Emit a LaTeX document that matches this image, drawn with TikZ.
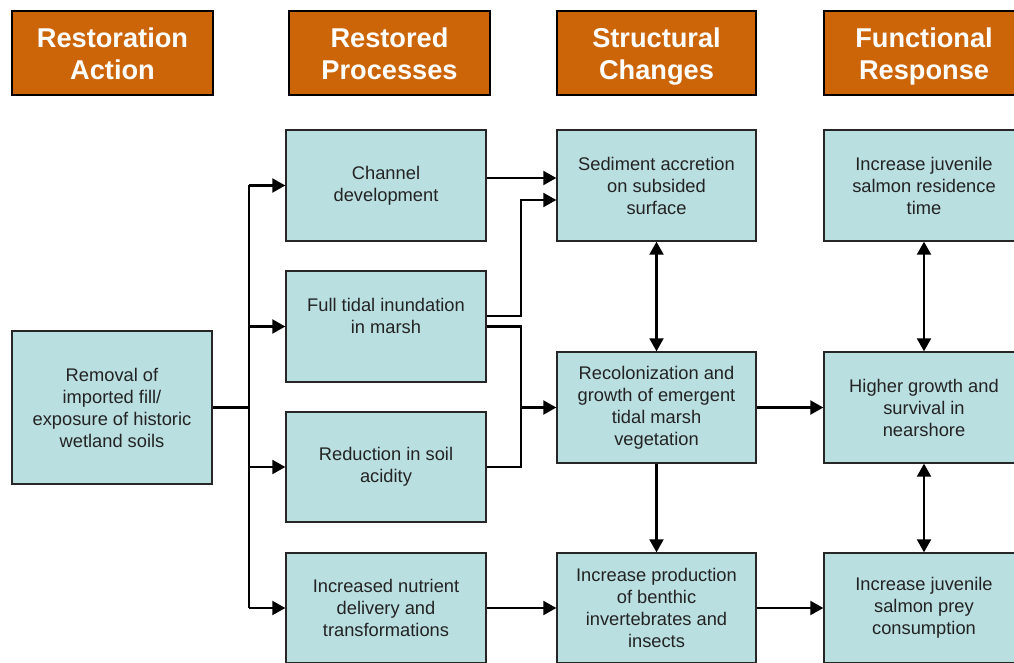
\documentclass[tikz,border=0pt]{standalone}
\usepackage{fontspec}
\setmainfont{Liberation Sans}
\usetikzlibrary{arrows.meta,calc}
\definecolor{hdrorange}{RGB}{204,100,8}
\definecolor{boxfill}{RGB}{186,223,225}
\definecolor{txtdark}{RGB}{35,35,35}
\newcommand{\hs}{\rule[-5pt]{0pt}{32pt}}
\tikzset{
  hdr/.style={draw=black, line width=1.8pt, fill=hdrorange, text=white, minimum width=201pt, minimum height=84pt, inner sep=0pt, align=center, font=\fontsize{27.2}{32}\selectfont\bfseries},
  box/.style={draw=black!85, line width=1.4pt, fill=boxfill, text=txtdark, minimum width=200pt, minimum height=111pt, inner sep=0pt, align=center, font=\fontsize{18.3}{22}\selectfont},
  txt/.style={text=txtdark, inner sep=0pt, align=center, font=\fontsize{18.3}{22}\selectfont},
  conn/.style={line width=2.2pt, draw=black},
  arr/.style={conn, -{Triangle[length=13pt,width=14pt]}},
  darr/.style={conn, {Triangle[length=13pt,width=14pt]}-{Triangle[length=13pt,width=14pt]}}
}
\begin{document}
\begin{tikzpicture}[x=1pt,y=-1pt]
\path[use as bounding box, clip] (0,0) rectangle (1014,663);
\fill[white] (0,0) rectangle (1014,663);
% headers
\node[hdr] (h1) at (112.5,53) {\hs Restoration\\\hs Action};
\node[hdr] (h2) at (389.5,53) {\hs Restored\\\hs Processes};
\node[hdr, minimum width=199pt] (h3) at (656.5,53) {\hs Structural\\\hs Changes};
\node[hdr, minimum width=200pt] (h4) at (924,53) {\hs Functional\\\hs Response};
% boxes
\node[box, minimum height=153pt] (rem) at (112,407.5) {Removal of\\imported fill/\\exposure of historic\\wetland soils};
\node[box] (chan) at (386,185.5) {Channel\\development};
\node[box] (tidal) at (386,326.5) {};
\node[txt] (tidaltxt) at (386,315.5) {Full tidal inundation\\in marsh};
\node[box, minimum height=110pt] (acid) at (386,467) {Reduction in soil\\acidity};
\node[box, minimum height=110pt] (nutr) at (386,608) {Increased nutrient\\delivery and\\transformations};
\node[box, minimum width=199pt] (sed) at (656.5,185.5) {Sediment accretion\\on subsided\\surface};
\node[box, minimum width=199pt] (recol) at (656.5,407.5) {Recolonization and\\growth of emergent\\tidal marsh\\vegetation};
\node[box, minimum width=199pt, minimum height=110pt] (prod) at (656.5,608) {Increase production\\of benthic\\invertebrates and\\insects};
\node[box] (res) at (924,185.5) {Increase juvenile\\salmon residence\\time};
\node[box] (grow) at (924,407.5) {Higher growth and\\survival in\\nearshore};
\node[box, minimum height=110pt] (prey) at (924,608) {Increase juvenile\\salmon prey\\consumption};
% trunk from removal
\coordinate (tk) at (249,407.5);
\coordinate (j) at (521,0);
\draw[conn] (rem.east) -- (tk);
\draw[conn] (tk |- chan.west) -- (tk |- nutr.west);
\draw[arr] (tk |- chan.west) -- (chan.west);
\draw[arr] (tk |- tidal.west) -- (tidal.west);
\draw[arr] (tk |- acid.west) -- (acid.west);
\draw[arr] (tk |- nutr.west) -- (nutr.west);
% processes to structural
\draw[arr] ([yshift=7.5pt]chan.east) coordinate (c1) -- (c1 -| sed.west);
\draw[arr] ([yshift=10.5pt]tidal.east) -| ([yshift=-14.5pt]sed.west -| j) -- ([yshift=-14.5pt]sed.west);
\draw[arr] (tidal.east) -| (j |- recol.west) -- (recol.west);
\draw[conn] (acid.east) -| (j |- recol.west);
\draw[arr] (nutr.east) -- (prod.west);
% structural
\draw[darr] (sed.south) -- (recol.north);
\draw[arr] (recol.south) -- (prod.north);
\draw[arr] (recol.east) -- (grow.west);
\draw[arr] (prod.east) -- (prey.west);
% functional
\draw[darr] (res.south) -- (grow.north);
\draw[darr] (grow.south) -- (prey.north);
\end{tikzpicture}
\end{document}
